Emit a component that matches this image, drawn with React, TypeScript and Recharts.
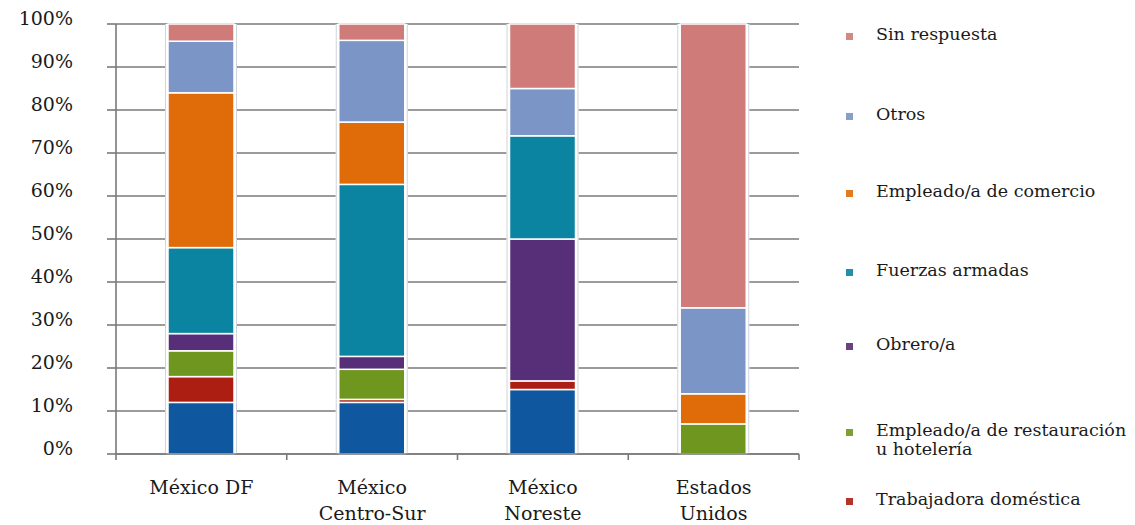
import React from 'react';
import { BarChart, Bar, XAxis, YAxis, CartesianGrid } from 'recharts';

// Regions (categories) and their axis labels, split over lines
const categories = ['México DF', 'México Centro-Sur', 'México Noreste', 'Estados Unidos'];
const categoryLines = [['México DF'], ['México', 'Centro-Sur'], ['México', 'Noreste'], ['Estados', 'Unidos']];

// Percent ticks on the value axis
const yTicks = [0, 10, 20, 30, 40, 50, 60, 70, 80, 90, 100];

// Share of each occupation per region (%), stacked bottom to top
const base = [12, 12, 15, 0];
const trabajadora = [6, 0.7, 2, 0];
const restauracion = [6, 7, 0, 7];
const obrero = [4, 3, 33, 0];
const fuerzas = [20, 40, 24, 0];
const comercio = [36, 14.5, 0, 7];
const otros = [12, 19, 11, 20];
const sinRespuesta = [4, 3.8, 15, 66];

const seriesKeys = ['base', 'trabajadora', 'restauracion', 'obrero', 'fuerzas', 'comercio', 'otros', 'sinRespuesta'];
const seriesValues = [base, trabajadora, restauracion, obrero, fuerzas, comercio, otros, sinRespuesta];
const seriesNames = ['', 'Trabajadora doméstica', 'Empleado/a de restauración\nu hotelería', 'Obrero/a', 'Fuerzas armadas', 'Empleado/a de comercio', 'Otros', 'Sin respuesta'];
const seriesColors = ['#0f58a0', '#ad1e12', '#6f961f', '#562f78', '#0b84a2', '#df6c08', '#7b95c6', '#cf7b79'];

const data = categories.map((category, i) => {
  const row: Record<string, string | number> = { category };
  seriesKeys.forEach((k, s) => {
    row[k] = seriesValues[s][i];
  });
  return row;
});

const FONT = '"DejaVu Serif", serif';
const AXIS = '#7a7a7a';
const LABEL_GAP = 26;
const EDGE_TICK = 6;

// One stacked segment: white gap around it, faint grey column edges
const SegmentShape = (props: any) => {
  const { x, y, width, height, fill } = props;
  if (!height || height <= 0) return null;
  return (
    <g>
      <rect x={x - 3} y={y} width={width + 6} height={height} fill="#fff" />
      <line x1={x - 2.5} x2={x - 2.5} y1={y} y2={y + height} stroke="#cfd3da" strokeWidth={1} />
      <line x1={x + width + 2.5} x2={x + width + 2.5} y1={y} y2={y + height} stroke="#cfd3da" strokeWidth={1} />
      <rect x={x} y={y} width={width} height={height} fill={fill} stroke="#fff" strokeWidth={1.5} />
    </g>
  );
};

const PercentTick = (props: any) => {
  const { x, y, payload } = props;
  return (
    <text x={x} y={y} dy={1} textAnchor="end" fontFamily={FONT} fontSize={19} fill="#1a1a1a">
      {`${payload.value}%`}
    </text>
  );
};

// Category label plus the small tick marks on the band edges
const CategoryTick = (props: any) => {
  const { x, y, payload, index, visibleTicksCount } = props;
  const idx = categories.indexOf(payload.value);
  const lines = categoryLines[idx] || [payload.value];
  const half = payload.offset || 0;
  const axisY = y - LABEL_GAP;
  const isLast = index === visibleTicksCount - 1;
  return (
    <g>
      {half > 0 && (
        <line x1={x - half} x2={x - half} y1={axisY} y2={axisY + EDGE_TICK} stroke={AXIS} strokeWidth={1.6} />
      )}
      {half > 0 && isLast && (
        <line x1={x + half} x2={x + half} y1={axisY} y2={axisY + EDGE_TICK} stroke={AXIS} strokeWidth={1.6} />
      )}
      <text x={x} y={y} textAnchor="middle" fontFamily={FONT} fontSize={19} fill="#1a1a1a">
        {lines.map((l, i) => (
          <tspan key={i} x={x} dy={i === 0 ? '0.72em' : 26}>
            {l}
          </tspan>
        ))}
      </text>
    </g>
  );
};

// Legend rows, top to bottom (first line top offsets)
const legendOrder = [7, 6, 5, 4, 3, 2, 1];
const legendTops = [25, 105, 182, 261, 335, 421, 490];

const SideLegend = () => (
  <div style={{ position: 'absolute', left: 0, top: 0, width: 1135, height: 525, pointerEvents: 'none' }}>
    {legendOrder.map((s, r) => (
      <div key={seriesKeys[s]} style={{ position: 'absolute', left: 846, top: legendTops[r] }}>
        <div
          style={{
            position: 'absolute',
            left: 0,
            top: 8,
            width: 7,
            height: 7,
            background: seriesColors[s],
            opacity: 0.9,
          }}
        />
        <div
          style={{
            position: 'absolute',
            left: 30,
            top: 0,
            whiteSpace: 'pre',
            fontFamily: FONT,
            fontSize: 17.5,
            lineHeight: '19px',
            color: '#1a1a1a',
          }}
        >
          {seriesNames[s]}
        </div>
      </div>
    ))}
  </div>
);

export default function App() {
  return (
    <div style={{ position: 'absolute', left: 0, top: 0, width: 1135, height: 525, background: '#fff' }}>
      <BarChart
        width={1135}
        height={525}
        data={data}
        margin={{ top: 24, right: 336, bottom: 70, left: 0 }}
        barSize={66}
      >
        <CartesianGrid horizontal vertical={false} stroke={AXIS} strokeWidth={1.6} />
        <XAxis
          dataKey="category"
          height={1}
          interval={0}
          tickLine={false}
          tickSize={0}
          tickMargin={LABEL_GAP}
          axisLine={{ stroke: AXIS, strokeWidth: 1.6 }}
          tick={<CategoryTick />}
        />
        <YAxis
          width={116}
          domain={[0, 100]}
          ticks={yTicks}
          interval={0}
          tickSize={9}
          tickMargin={34}
          axisLine={{ stroke: AXIS, strokeWidth: 1.6 }}
          tickLine={{ stroke: AXIS, strokeWidth: 1.6 }}
          tick={<PercentTick />}
        />
        {seriesKeys.map((k, s) => (
          <Bar
            key={k}
            dataKey={k}
            name={seriesNames[s]}
            stackId="a"
            fill={seriesColors[s]}
            isAnimationActive={false}
            shape={<SegmentShape />}
          />
        ))}
      </BarChart>
      <SideLegend />
    </div>
  );
}
